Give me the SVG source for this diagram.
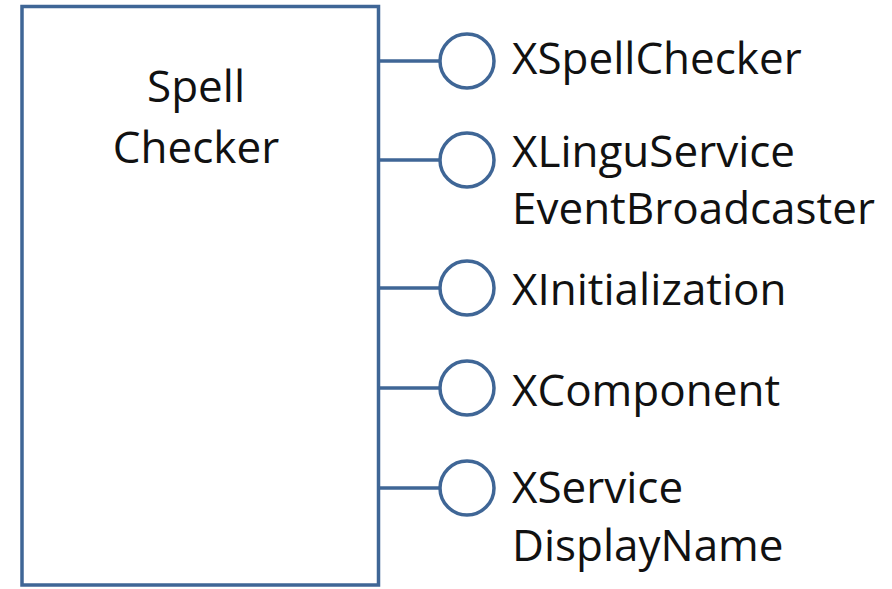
<svg xmlns="http://www.w3.org/2000/svg" width="892" height="589" viewBox="0 0 892 589">
  <style>
    .box { fill: #ffffff; stroke: #3f6696; stroke-width: 3.5; }
    .lollipop { fill: #ffffff; stroke: #3f6696; stroke-width: 3.5; }
    .wire { stroke: #3f6696; stroke-width: 3.5; fill: none; }
    .label { font-family: "Open Sans", "Noto Sans", sans-serif; font-size: 44px; fill: #111111; }
  </style>
  <rect width="892" height="589" fill="#ffffff"/>

  <g id="spell-checker">
    <rect class="box" x="22" y="6.5" width="356.5" height="578.5"/>
    <text class="label" x="196" y="102" text-anchor="middle">Spell</text>
    <text class="label" x="196" y="163" text-anchor="middle">Checker</text>
  </g>

  <g id="connectors">
    <line class="wire" x1="378.5" y1="61" x2="440" y2="61"/>
    <line class="wire" x1="378.5" y1="160" x2="440" y2="160"/>
    <line class="wire" x1="378.5" y1="288" x2="440" y2="288"/>
    <line class="wire" x1="378.5" y1="388" x2="440" y2="388"/>
    <line class="wire" x1="378.5" y1="488" x2="440" y2="488"/>
  </g>

  <g id="xspellchecker">
    <circle class="lollipop" cx="467" cy="61" r="27"/>
    <text class="label" x="512" y="74">XSpellChecker</text>
  </g>
  <g id="xlinguservice-eventbroadcaster">
    <circle class="lollipop" cx="467" cy="160" r="27"/>
    <text class="label" x="512" y="167">XLinguService</text>
    <text class="label" x="512" y="224">EventBroadcaster</text>
  </g>
  <g id="xinitialization">
    <circle class="lollipop" cx="467" cy="288" r="27"/>
    <text class="label" x="512" y="305">XInitialization</text>
  </g>
  <g id="xcomponent">
    <circle class="lollipop" cx="467" cy="388" r="27"/>
    <text class="label" x="512" y="406">XComponent</text>
  </g>
  <g id="xservice-displayname">
    <circle class="lollipop" cx="467" cy="488" r="27"/>
    <text class="label" x="512" y="503">XService</text>
    <text class="label" x="512" y="561">DisplayName</text>
  </g>
</svg>
